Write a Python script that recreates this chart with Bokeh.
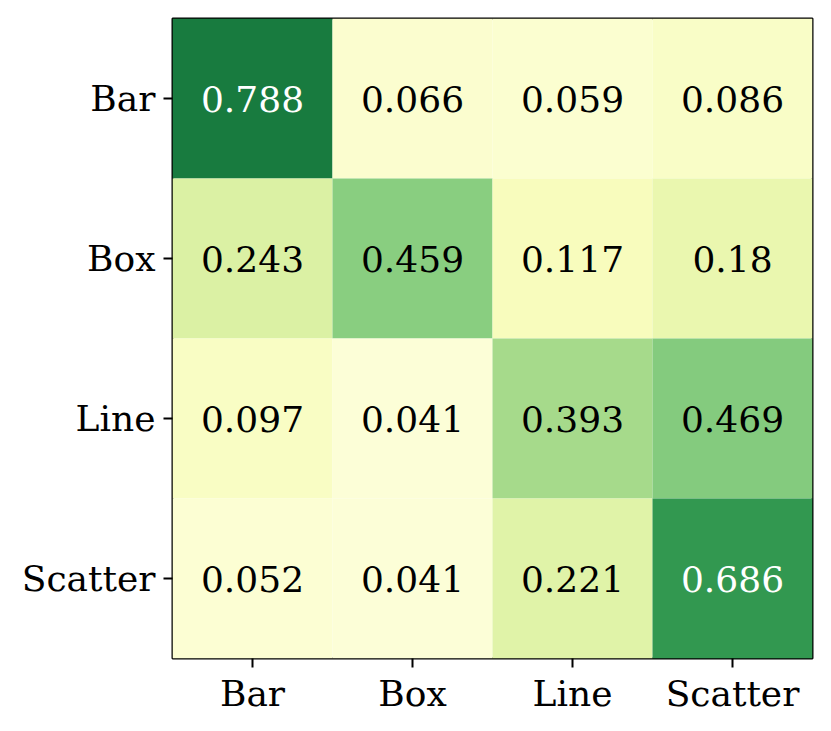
import numpy as np
from bokeh.plotting import figure
from bokeh.models import ColumnDataSource, FactorRange, LinearColorMapper
from bokeh.transform import transform
from bokeh.core.properties import value
from bokeh.embed import file_html
from bokeh.resources import INLINE

categories = ["Bar", "Box", "Line", "Scatter"]
# rows = true class, cols = predicted class
matrix = [
    [0.788, 0.066, 0.059, 0.086],
    [0.243, 0.459, 0.117, 0.180],
    [0.097, 0.041, 0.393, 0.469],
    [0.052, 0.041, 0.221, 0.686],
]
labels = [
    ["0.788", "0.066", "0.059", "0.086"],
    ["0.243", "0.459", "0.117", "0.18"],
    ["0.097", "0.041", "0.393", "0.469"],
    ["0.052", "0.041", "0.221", "0.686"],
]

# YlGn colormap (9-class anchors) interpolated to 256 steps
ylgn9 = ["#ffffe5", "#f7fcb9", "#d9f0a3", "#addd8e", "#78c679",
         "#41ab5d", "#238443", "#006837", "#004529"]
anchors = np.array([[int(c[i:i + 2], 16) for i in (1, 3, 5)] for c in ylgn9], dtype=float)
pos = np.linspace(0, 1, len(ylgn9))
t = np.linspace(0, 1, 256)
rgb = np.stack([np.interp(t, pos, anchors[:, k]) for k in range(3)], axis=1)
palette = ["#%02x%02x%02x" % tuple(int(round(v)) for v in row) for row in rgb]
mapper = LinearColorMapper(palette=palette, low=0.0, high=1.0)

xs, ys, vals, txt, tcol = [], [], [], [], []
for i, row in enumerate(categories):
    for j, col in enumerate(categories):
        xs.append(col)
        ys.append(row)
        vals.append(matrix[i][j])
        txt.append(labels[i][j])
        tcol.append("white" if matrix[i][j] > 0.5 else "black")

src = ColumnDataSource(dict(x=xs, y=ys, v=vals, t=txt, tc=tcol))

p = figure(
    width=831, height=731,
    x_range=FactorRange(*categories),
    y_range=FactorRange(*categories[::-1]),
    output_backend="svg", toolbar_location=None,
    min_border_left=172, min_border_right=19,
    min_border_top=18, min_border_bottom=73,
)
p.rect(x="x", y="y", width=1, height=1, source=src,
       fill_color=transform("v", mapper), line_color=None)
p.text(x="x", y="y", text="t", source=src, text_color="tc",
       text_align="center", text_baseline="middle",
       text_font=value("DejaVu Serif"), text_font_size="36px")

p.grid.visible = False
p.outline_line_color = "black"
p.outline_line_width = 2
p.background_fill_color = "white"
for ax in (p.xaxis[0], p.yaxis[0]):
    ax.axis_line_color = None
    ax.major_tick_in = 0
    ax.major_tick_out = 9
    ax.major_tick_line_width = 2
    ax.major_tick_line_color = "black"
    ax.major_label_text_font = "DejaVu Serif"
    ax.major_label_text_font_size = "36px"
    ax.major_label_text_color = "black"
p.xaxis[0].major_label_standoff = 5
p.yaxis[0].major_label_standoff = 8
p.x_range.range_padding = 0
p.y_range.range_padding = 0

open("out.html", "w").write(file_html(p, INLINE))
